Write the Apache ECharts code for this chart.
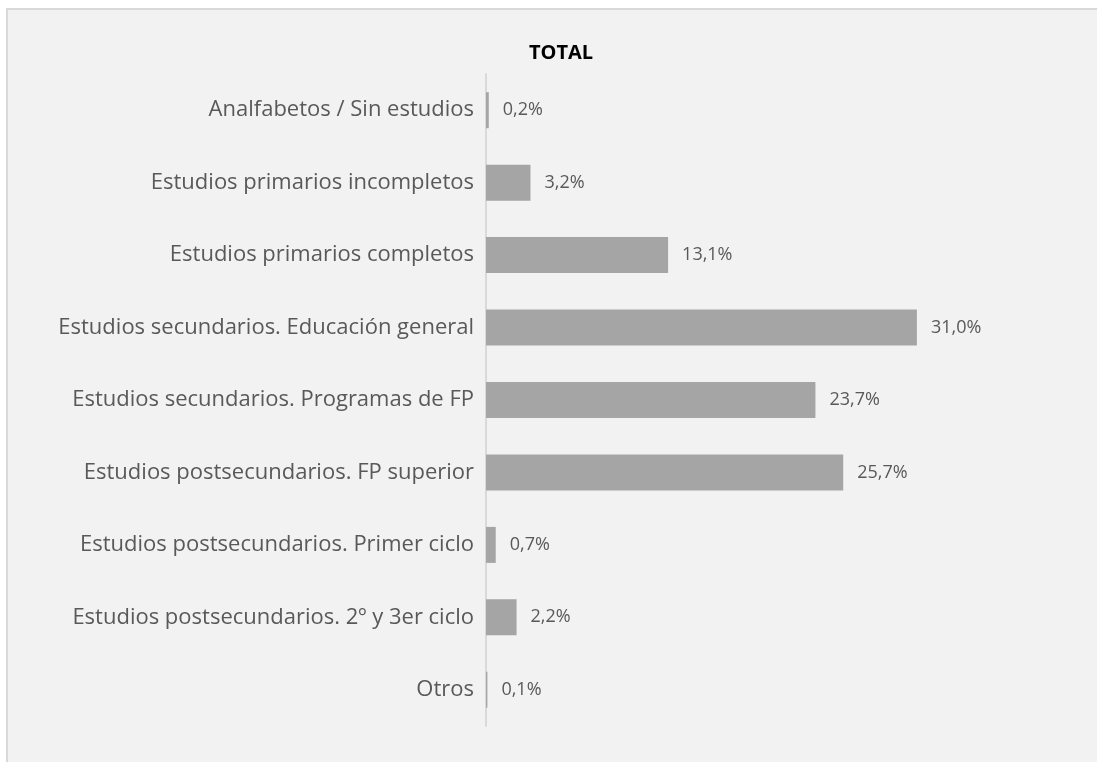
<!DOCTYPE html>
<html><head><meta charset="utf-8">
<script src="https://cdn.jsdelivr.net/npm/echarts@6/dist/echarts.min.js"></script>
<style>html,body{margin:0;padding:0;background:#fff}#c{width:1097px;height:762px}</style>
</head><body><div id="c"></div>
<script>
const categories = [
  "Analfabetos / Sin estudios",
  "Estudios primarios incompletos",
  "Estudios primarios completos",
  "Estudios secundarios. Educación general",
  "Estudios secundarios. Programas de FP",
  "Estudios postsecundarios. FP superior",
  "Estudios postsecundarios. Primer ciclo",
  "Estudios postsecundarios. 2º y 3er ciclo",
  "Otros"
];
const values = [0.2, 3.2, 13.1, 31.0, 23.7, 25.7, 0.7, 2.2, 0.1];
const titleText = "TOTAL";

const chart = echarts.init(document.getElementById('c'), null, {renderer: 'canvas'});
chart.setOption({
  backgroundColor: '#ffffff',
  animation: false,
  graphic: [{
    type: 'rect', z: -10, silent: true,
    shape: {x: 7, y: 9, width: 1200, height: 900},
    style: {fill: '#f2f2f2', stroke: '#d9d9d9', lineWidth: 2}
  }],
  title: {
    text: titleText, left: 556, top: 38, textAlign: 'center',
    textStyle: {fontFamily: 'Open Sans', fontWeight: 'bold', fontSize: 20, color: '#000'}
  },
  grid: {left: 486, right: 55, top: 74, bottom: 36, containLabel: false},
  xAxis: {
    type: 'value', min: 0, max: 40, show: false
  },
  yAxis: {
    type: 'category', data: categories, inverse: true,
    axisLine: {show: true, lineStyle: {color: '#d9d9d9', width: 2}},
    axisTick: {show: false},
    axisLabel: {margin: 12, fontFamily: 'Open Sans', fontSize: 22, color: '#595959'}
  },
  series: [{
    type: 'bar', data: values, barWidth: 36,
    itemStyle: {color: '#a5a5a5'},
    label: {
      show: true, position: 'right', distance: 14,
      fontFamily: 'Open Sans', fontSize: 18, color: '#595959',
      formatter: p => p.value.toFixed(1).replace('.', ',') + '%'
    }
  }]
});
</script></body></html>
